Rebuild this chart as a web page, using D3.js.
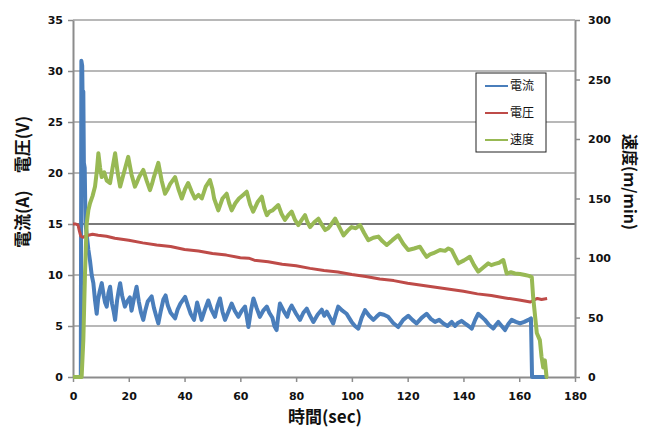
<!DOCTYPE html>
<html><head><meta charset="utf-8">
<script src="https://cdn.jsdelivr.net/npm/d3@7/dist/d3.min.js"></script>
<style>body{margin:0;background:#fff;} svg{display:block;}</style>
</head><body>
<script>
// ---- data ----
const seriesNames = ["電流", "電圧", "速度"];
const leftTicks = [0, 5, 10, 15, 20, 25, 30, 35];
const rightTicks = [0, 50, 100, 150, 200, 250, 300];
const xTicks = [0, 20, 40, 60, 80, 100, 120, 140, 160, 180];

const currentTime = [0, 2.8, 3.0, 3.3, 3.5, 3.7, 3.9, 4.2, 4.5, 4.9, 5.5, 6.1, 6.7, 7.3, 7.9, 8.5, 9.0, 9.5, 10.3, 11.0, 11.5, 12.1, 12.7, 13.3, 14.0, 14.6, 15.1, 15.8, 16.4, 16.9, 17.6, 18.6, 19.4, 20.4, 21.0, 21.8, 22.8, 23.6, 24.4, 25.2, 26.0, 26.8, 28.2, 29.0, 29.8, 30.6, 31.5, 32.4, 33.2, 34.0, 35.0, 36.6, 37.5, 38.5, 40.2, 41.2, 42.2, 43.4, 44.5, 45.3, 46.1, 47.3, 48.5, 49.6, 50.9, 51.8, 52.7, 53.6, 54.5, 55.7, 56.9, 58.0, 59.3, 60.5, 61.7, 62.9, 63.8, 64.7, 65.8, 67.0, 68.2, 69.5, 70.4, 71.5, 72.2, 73.0, 73.6, 74.2, 75.5, 76.8, 77.6, 78.4, 80.0, 81.4, 82.6, 83.8, 85.0, 86.2, 87.7, 89.2, 90.1, 91.0, 92.2, 93.3, 94.2, 95.1, 96.6, 98.1, 99.0, 99.9, 101.1, 102.3, 103.5, 104.7, 106.2, 107.7, 108.8, 110.0, 111.5, 113.0, 114.8, 116.6, 118.4, 120.2, 121.7, 123.2, 125.0, 126.8, 128.3, 129.8, 131.3, 132.8, 134.3, 135.8, 137.0, 138.0, 139.3, 140.5, 141.8, 143.0, 144.2, 145.3, 146.5, 147.7, 149.2, 150.7, 151.6, 152.5, 153.7, 154.9, 156.1, 157.3, 158.8, 160.3, 161.8, 163.3, 164.2, 164.6, 169.8];
const currentValue = [0, 0, 31, 30.5, 26, 28, 21, 20.5, 15, 14, 12.5, 11.4, 10.0, 9.2, 7.5, 6.2, 7.6, 8.3, 9.2, 8.0, 7.3, 6.9, 8.2, 8.85, 7.2, 6.4, 5.6, 7.5, 8.5, 9.2, 8.0, 6.9, 7.4, 7.8, 6.5, 7.6, 8.85, 7.4, 6.3, 5.6, 6.6, 7.4, 7.9, 6.8, 6.0, 5.25, 6.5, 7.6, 8.0, 7.0, 6.3, 5.75, 6.6, 7.2, 7.85, 7.0, 6.2, 5.6, 7.3, 6.5, 5.6, 6.6, 7.5, 6.6, 5.9, 7.0, 7.7, 6.4, 5.6, 6.4, 7.2, 6.5, 5.9, 6.5, 6.9, 4.9, 6.5, 7.7, 6.8, 5.9, 6.5, 6.9, 6.3, 5.8, 5.0, 4.6, 6.0, 7.2, 6.5, 5.9, 6.6, 7.0, 6.2, 5.6, 6.3, 6.7, 6.0, 5.4, 6.1, 6.6, 6.0, 6.4, 5.8, 5.25, 6.1, 6.9, 6.5, 6.2, 5.8, 5.4, 5.0, 4.75, 5.8, 6.55, 6.0, 5.6, 5.9, 6.2, 6.1, 5.9, 5.3, 4.9, 5.6, 6.0, 5.6, 5.25, 5.8, 6.2, 5.7, 5.4, 5.6, 5.25, 5.0, 5.4, 5.0, 5.3, 5.5, 5.25, 5.0, 4.75, 5.6, 6.2, 5.9, 5.6, 5.1, 4.75, 5.1, 5.4, 5.0, 4.6, 5.2, 5.6, 5.4, 5.25, 5.4, 5.6, 5.75, 0, 0];

const voltageTime = [0, 1.0, 1.8, 2.3, 2.8, 3.5, 4.5, 5.5, 7, 9, 12, 15, 20, 25, 30, 35, 40, 45, 50, 55, 60, 63, 65, 70, 75, 80, 85, 90, 95, 100, 105, 110, 115, 120, 125, 130, 135, 140, 145, 150, 155, 160, 164, 165, 166.5, 168, 170];
const voltageValue = [15.0, 15.0, 14.9, 14.3, 13.8, 13.7, 13.8, 13.9, 14.0, 13.9, 13.8, 13.6, 13.4, 13.15, 12.95, 12.8, 12.5, 12.35, 12.1, 11.95, 11.7, 11.65, 11.45, 11.3, 11.05, 10.9, 10.65, 10.45, 10.3, 10.05, 9.85, 9.6, 9.45, 9.2, 9.0, 8.8, 8.6, 8.4, 8.15, 7.98, 7.75, 7.55, 7.35, 7.5, 7.7, 7.6, 7.7];

const speedTime = [0, 3.1, 3.7, 4.3, 4.9, 5.5, 6.1, 7.0, 7.9, 8.5, 9.1, 9.7, 10.3, 11.2, 12.1, 13.3, 14.2, 15.1, 16.0, 16.9, 17.6, 18.3, 19.8, 21.0, 22.2, 23.0, 23.7, 25.2, 26.4, 27.6, 28.3, 29.0, 30.6, 31.8, 33.0, 34.0, 34.8, 36.6, 37.8, 39.0, 40.2, 41.3, 42.5, 43.7, 45.0, 46.2, 47.6, 49.1, 50.0, 50.6, 52.1, 53.6, 55.1, 56.0, 56.9, 58.2, 59.5, 61.0, 62.3, 63.5, 64.6, 66.2, 67.7, 68.6, 69.5, 70.5, 71.5, 73.6, 74.8, 76.0, 77.2, 78.4, 79.6, 80.8, 82.0, 83.2, 84.1, 85.0, 86.5, 88.0, 89.2, 90.4, 91.5, 92.5, 94.0, 95.5, 97.0, 98.5, 99.9, 101.4, 102.9, 104.4, 105.9, 107.7, 109.5, 111.0, 112.5, 114.5, 116.6, 118.4, 120.2, 122.3, 124.4, 125.6, 126.8, 128.0, 129.2, 131.6, 133.4, 134.6, 135.8, 137.0, 138.2, 140.2, 142.3, 143.8, 145.3, 147.1, 148.9, 150.0, 151.3, 152.8, 154.3, 155.5, 157.0, 158.5, 160.3, 162.1, 163.5, 164.5, 165.0, 166.3, 167.4, 168.0, 168.6, 169.2, 169.8, 170.3];
const speedValue = [0, 0, 31, 87, 129, 140, 146, 152, 160, 172, 188, 176, 168, 172, 165, 163, 176, 188, 172, 160, 166, 172, 185, 170, 160, 164, 168, 174, 165, 157, 162, 168, 180, 165, 154, 158, 162, 168, 158, 150, 158, 163, 156, 150, 153, 150, 160, 165.5, 158, 150, 140, 150, 154, 146, 140, 146, 150, 153, 155.7, 145, 139, 147, 151.5, 142, 136, 139, 140, 144.5, 137, 132, 136, 139, 132, 127.7, 132, 136, 130, 126, 130, 133, 128, 123.5, 125, 128, 133, 126, 119, 123, 126, 125, 127.7, 121, 115, 117, 118, 114, 111, 115, 119, 112, 106.7, 108, 109.5, 105, 101, 103, 104, 106.7, 106, 108, 106.7, 101, 95.5, 98, 101, 94, 88.5, 92, 95.5, 94, 95, 96, 98.3, 87, 88, 87, 86.5, 85.7, 85, 84, 67, 37, 31, 17, 8, 14, 0, 0];

// ---- layout ----
const W = 645, H = 428;
const m = {left: 73, right: 575, top: 20, bottom: 377};
const colors = {current: "#4a7ebb", voltage: "#be4b48", speed: "#98b954"};

const svg = d3.select("body").append("svg").attr("width", W).attr("height", H);

const x = d3.scaleLinear().domain([0, 180]).range([m.left, m.right]);
const yL = d3.scaleLinear().domain([0, 35]).range([m.bottom, m.top]);
const yR = d3.scaleLinear().domain([0, 300]).range([m.bottom, m.top]);

// gridlines
svg.append("g").selectAll("line").data(leftTicks.filter(d => d > 0)).join("line")
  .attr("x1", m.left).attr("x2", m.right)
  .attr("y1", d => yL(d)).attr("y2", d => yL(d))
  .attr("stroke", d => d === 15 ? "#7a7a7a" : "#a0a0a0")
  .attr("stroke-width", d => d === 15 ? 2 : 1.3);

const font = "'DejaVu Sans', sans-serif";
const cjk = "'Noto Sans CJK JP', sans-serif";

function styleAxis(g) {
  g.select(".domain").attr("stroke", "#8c8c8c").attr("stroke-width", 2);
  g.selectAll(".tick line").attr("stroke", "#8c8c8c").attr("stroke-width", 1.5);
  g.selectAll(".tick text").attr("font-family", font).attr("font-weight", "bold")
    .attr("font-size", 11).attr("fill", "#111");
}

svg.append("g").attr("transform", `translate(${m.left},0)`)
  .call(d3.axisLeft(yL).tickValues(leftTicks).tickSize(5).tickPadding(5).tickSizeOuter(0))
  .call(styleAxis);
svg.append("g").attr("transform", `translate(${m.right},0)`)
  .call(d3.axisRight(yR).tickValues(rightTicks).tickSize(5).tickPadding(8).tickSizeOuter(0))
  .call(styleAxis);
svg.append("g").attr("transform", `translate(0,${m.bottom})`)
  .call(d3.axisBottom(x).tickValues(xTicks).tickSize(5).tickPadding(10).tickSizeOuter(0))
  .call(styleAxis);

// lines
const lineL = (ts, vs) => d3.line().x((d, i) => x(ts[i])).y(d => yL(d))(vs);
const lineR = (ts, vs) => d3.line().x((d, i) => x(ts[i])).y(d => yR(d))(vs);

svg.append("path").attr("d", lineL(currentTime, currentValue))
  .attr("fill", "none").attr("stroke", colors.current).attr("stroke-width", 4).attr("stroke-linejoin", "round");
svg.append("path").attr("d", lineL(voltageTime, voltageValue))
  .attr("fill", "none").attr("stroke", colors.voltage).attr("stroke-width", 3).attr("stroke-linejoin", "round");
svg.append("path").attr("d", lineR(speedTime, speedValue))
  .attr("fill", "none").attr("stroke", colors.speed).attr("stroke-width", 4).attr("stroke-linejoin", "round");

// axis titles
svg.append("text").attr("transform", `translate(29,182) rotate(-90)`)
  .attr("text-anchor", "middle").attr("font-family", cjk).attr("font-weight", "bold")
  .attr("font-size", 17).attr("fill", "#111").text("電流(A)　電圧(V)");
svg.append("text").attr("transform", `translate(624,182) rotate(90)`)
  .attr("text-anchor", "middle").attr("font-family", cjk).attr("font-weight", "bold")
  .attr("font-size", 16).attr("fill", "#111").text("速度(m/min)");
svg.append("text").attr("x", 325).attr("y", 423)
  .attr("text-anchor", "middle").attr("font-family", cjk).attr("font-weight", "bold")
  .attr("font-size", 17).attr("fill", "#111").text("時間(sec)");

// legend
const lg = svg.append("g");
lg.append("rect").attr("x", 476).attr("y", 73).attr("width", 70).attr("height", 79)
  .attr("fill", "#fff").attr("stroke", "#222").attr("stroke-width", 1);
const lc = [colors.current, colors.voltage, colors.speed];
seriesNames.forEach((n, i) => {
  const yy = 86 + i * 27;
  lg.append("line").attr("x1", 485).attr("x2", 508).attr("y1", yy).attr("y2", yy)
    .attr("stroke", lc[i]).attr("stroke-width", 2);
  lg.append("text").attr("x", 510).attr("y", yy + 4).attr("font-family", cjk)
    .attr("font-size", 12).attr("fill", "#111").text(n);
});
</script>
</body></html>
